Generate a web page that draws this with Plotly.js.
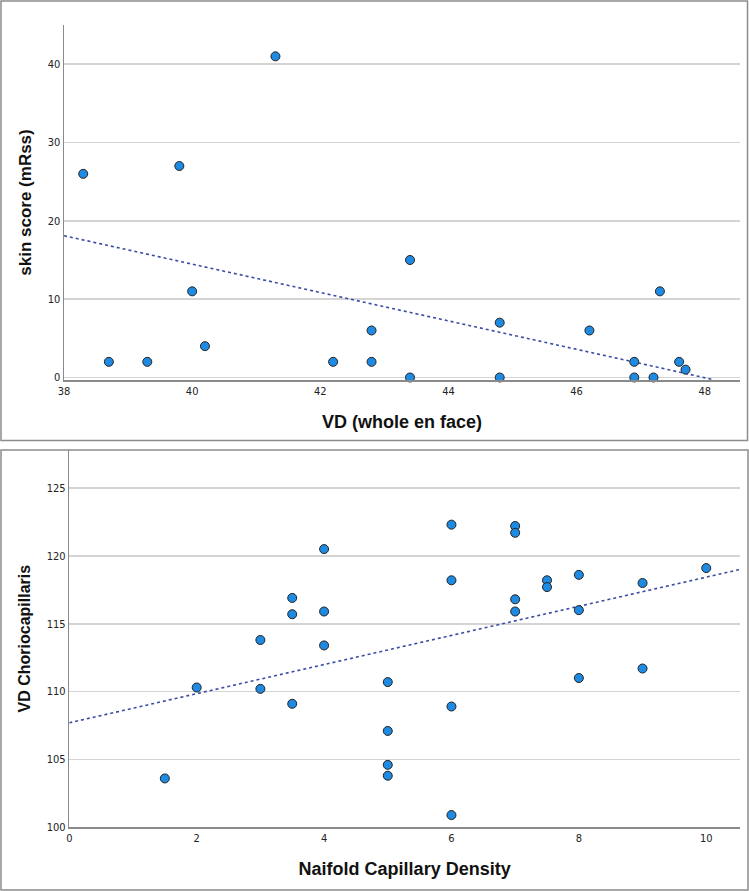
<!DOCTYPE html>
<html>
<head>
<meta charset="utf-8">
<script src="https://cdn.plot.ly/plotly-3.0.1.min.js"></script>
<style>
  html, body { margin: 0; padding: 0; background: #fff; }
  #chart { width: 749px; height: 891px; }
</style>
</head>
<body>
<div id="chart"></div>
<script>
// top panel: skin score vs VD (whole en face)
const vdWhole = [38.3, 38.7, 39.3, 39.8, 40.0, 40.2, 41.3, 42.2, 42.8, 42.8, 43.4,
  43.4, 44.8, 44.8, 46.2, 46.9, 46.9, 47.2, 47.3, 47.6, 47.7];
const skinScore = [26, 2, 2, 27, 11, 4, 41, 2, 6, 2, 15,
  0, 7, 0, 6, 2, 0, 0, 11, 2, 1];
const fitVdX = [38, 48.15];
const fitVdY = [18.1, -0.3];
const topXTicks = [38, 40, 42, 44, 46, 48];
const topYTicks = [0, 10, 20, 30, 40];

// bottom panel: VD choriocapillaris vs nailfold capillary density
const capDensity = [1.5, 2, 3, 3, 3.5, 3.5, 3.5, 4, 4, 4, 5, 5, 5, 5, 6, 6, 6, 6,
  7, 7, 7, 7, 7.5, 7.5, 8, 8, 8, 9, 9, 10];
const vdCC = [103.6, 110.3, 113.8, 110.2, 116.9, 115.7, 109.1, 120.5, 115.9, 113.4,
  110.7, 107.1, 104.6, 103.8, 122.3, 118.2, 108.9, 100.9,
  122.2, 121.7, 116.8, 115.9, 118.2, 117.7, 118.6, 116.0, 111.0, 118.0, 111.7, 119.1];
const fitCapX = [0, 10.53];
const fitCapY = [107.7, 119.0];
const botXTicks = [0, 2, 4, 6, 8, 10];
const botYTicks = [100, 105, 110, 115, 120, 125];

const W = 749, H = 891;
const px = v => v / W;
const py = v => 1 - v / H;

const dotStyle = {
  size: 9,
  color: "#1e8ae2",
  line: { color: "#222", width: 1 },
};
const fitStyle = { color: "#3a4ca6", width: 1.6, dash: "dot" };

const traces = [
  {
    x: fitVdX, y: fitVdY, xaxis: "x", yaxis: "y",
    type: "scatter", mode: "lines", line: fitStyle, hoverinfo: "skip",
  },
  {
    x: vdWhole, y: skinScore, xaxis: "x", yaxis: "y",
    type: "scatter", mode: "markers", marker: dotStyle, cliponaxis: false,
  },
  {
    x: fitCapX, y: fitCapY, xaxis: "x2", yaxis: "y2",
    type: "scatter", mode: "lines", line: fitStyle, hoverinfo: "skip",
  },
  {
    x: capDensity, y: vdCC, xaxis: "x2", yaxis: "y2",
    type: "scatter", mode: "markers", marker: dotStyle, cliponaxis: false,
  },
];

const tickFont = { family: "Liberation Sans Narrow, DejaVu Sans Condensed, sans-serif", size: 11, color: "#222" };
const xTitleFont = { family: "Liberation Sans Narrow, Arial Narrow, sans-serif", size: 18, color: "#111", weight: "bold" };
const yTitleFont = size => ({ family: "Liberation Sans, Arial, sans-serif", size: size, color: "#111", weight: "bold" });

function xAxis(range, ticks, title, domain, anchor) {
  return {
    domain: domain, anchor: anchor, range: range,
    tickmode: "array", tickvals: ticks, ticks: "",
    tickfont: tickFont, showgrid: false, zeroline: false,
    showline: true, linecolor: "#8a8a8a", linewidth: 1.5,
    title: { text: title, font: xTitleFont, standoff: 18 },
  };
}
function yAxis(range, ticks, title, domain, anchor, size) {
  return {
    domain: domain, anchor: anchor, range: range,
    tickmode: "array", tickvals: ticks, ticks: "",
    tickfont: tickFont, showgrid: true, gridcolor: "#d4d4d4", gridwidth: 1.8,
    zeroline: false, showline: true, linecolor: "#8a8a8a", linewidth: 1.5,
    title: { text: title, font: yTitleFont(size), standoff: 12 },
  };
}

const layout = {
  width: W, height: H,
  margin: { l: 0, r: 0, t: 0, b: 0 },
  paper_bgcolor: "#fff", plot_bgcolor: "#fff",
  showlegend: false,
  xaxis: xAxis([38, 48.55], topXTicks, "VD (whole en face)", [px(64), px(740)], "y"),
  yaxis: yAxis([-0.32, 45], topYTicks, "skin score (mRss)", [py(380), py(25)], "x", 17),
  xaxis2: xAxis([0, 10.53], botXTicks, "Naifold Capillary Density", [px(69.3), px(740)], "y2"),
  yaxis2: yAxis([100, 127.8], botYTicks, "VD Choriocapillaris", [py(827.3), py(450)], "x2", 16),
  shapes: [
    { type: "rect", xref: "paper", yref: "paper", x0: px(1), x1: px(747.5), y0: py(440.5), y1: py(1),
      line: { color: "#8c8c8c", width: 1.5 } },
    { type: "rect", xref: "paper", yref: "paper", x0: px(1), x1: px(748), y0: py(890), y1: py(450),
      line: { color: "#8c8c8c", width: 1.5 } },
  ],
};

Plotly.newPlot("chart", traces, layout, { displayModeBar: false, staticPlot: true });
</script>
</body>
</html>
